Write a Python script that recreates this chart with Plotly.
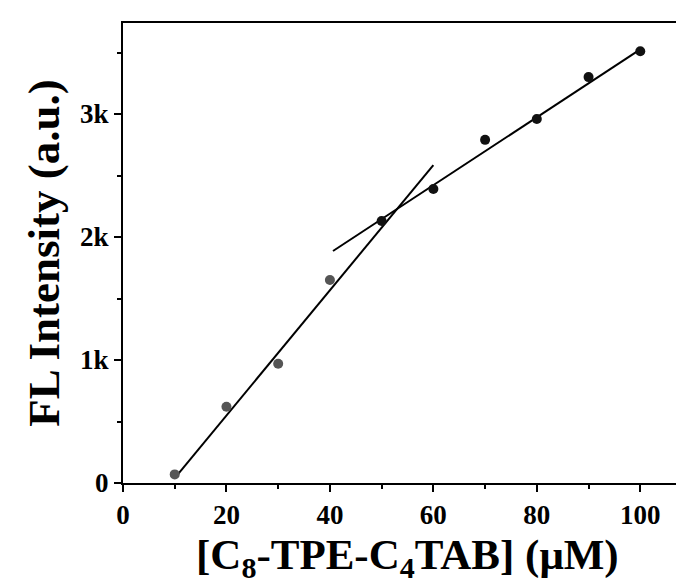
import plotly.graph_objects as go

conc = [10, 20, 30, 40, 50, 60, 70, 80, 90, 100]
intensity = [70, 620, 970, 1650, 2130, 2390, 2790, 2960, 3300, 3510]
point_colors = ["#555555"] * 4 + ["#111111"] * 6

fit1_x = [10, 60]
fit1_y = [40, 2585]
fit2_x = [40.6, 100]
fit2_y = [1886, 3525]

xtick_vals = [0, 20, 40, 60, 80, 100]
ytick_vals = [0, 1000, 2000, 3000]
ytick_text = ["0", "1k", "2k", "3k"]
x_title = "[C<sub>8</sub>-TPE-C<sub>4</sub>TAB] (μM)"
y_title = "FL Intensity (a.u.)"

fig = go.Figure()
fig.add_trace(go.Scatter(x=fit1_x, y=fit1_y, mode="lines",
                         line=dict(color="black", width=2), showlegend=False))
fig.add_trace(go.Scatter(x=fit2_x, y=fit2_y, mode="lines",
                         line=dict(color="black", width=2), showlegend=False))
fig.add_trace(go.Scatter(x=conc, y=intensity, mode="markers",
                         marker=dict(color=point_colors, size=10), showlegend=False))

font_family = "Liberation Serif, Times New Roman, serif"
fig.update_layout(
    width=684, height=585,
    margin=dict(l=115, r=0, t=15, b=110),
    plot_bgcolor="white", paper_bgcolor="white",
    font=dict(family=font_family, color="black"),
)
fig.add_annotation(
    text=x_title, xref="paper", yref="paper", x=0.5, y=0,
    xanchor="center", yanchor="bottom", yshift=-104, showarrow=False,
    font=dict(size=43, family=font_family, weight="bold", color="black"),
)
fig.update_xaxes(
    range=[0, 110], tickvals=xtick_vals, showgrid=False, zeroline=False, automargin=False,
    showline=True, linecolor="black", linewidth=2, mirror=True,
    ticks="outside", ticklen=7, tickwidth=2, tickcolor="black",
    minor=dict(ticks="outside", ticklen=4, tickwidth=2, tickcolor="black", dtick=10, tick0=0),
    tickfont=dict(size=27, family=font_family, weight="bold"),
)
fig.update_yaxes(
    range=[0, 3740], tickvals=ytick_vals, ticktext=ytick_text, showgrid=False, zeroline=False,
    automargin=False,
    showline=True, linecolor="black", linewidth=2,
    ticks="outside", ticklen=7, tickwidth=2, tickcolor="black",
    minor=dict(ticks="outside", ticklen=4, tickwidth=2, tickcolor="black", dtick=500, tick0=0),
    tickfont=dict(size=27, family=font_family, weight="bold"),
    title=dict(text=y_title,
               font=dict(size=45, family=font_family, weight="bold"), standoff=6),
)
fig.write_html("out.html")
